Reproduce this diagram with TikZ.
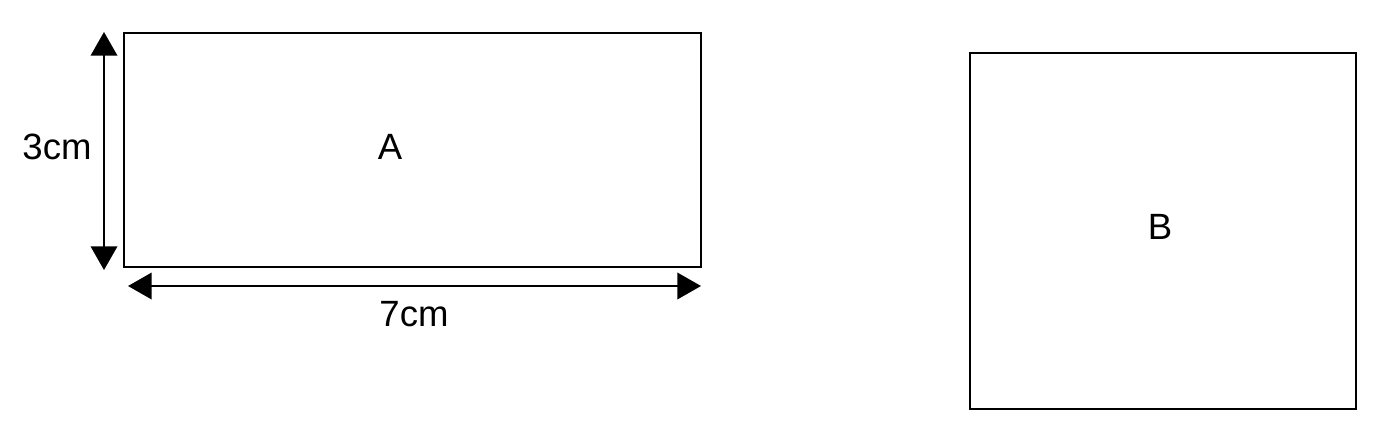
\documentclass[tikz,border=0pt]{standalone}
\usepackage{fontspec}
\setmainfont{Liberation Sans}
\usetikzlibrary{arrows.meta}
\begin{document}
\begin{tikzpicture}[x=0.02cm,y=-0.02cm,
  box/.style={draw,line width=1.4pt},
  dim/.style={line width=1.5pt,{Triangle[length=13.5pt,width=15pt]}-{Triangle[length=13.5pt,width=15pt]}},
  lbl/.style={font=\fontsize{20.8}{24}\selectfont,inner sep=0pt}]
\useasboundingbox (0,0) rectangle (1389,439);
\draw[box] (124,33) rectangle (701,267);
\node[lbl] (A) at (390,147) {A};
\draw[box] (970,53) rectangle (1356,409);
\node[lbl] (B) at (1160,227) {B};
\coordinate (vt) at (104,32);
\coordinate (vb) at (104,270);
\coordinate (hl) at (128,286);
\coordinate (hr) at (701,286);
\draw[dim] (vt) -- (vb);
\draw[dim] (hl) -- (hr);
\node[lbl] (h) at (57,147) {3cm};
\node[lbl] (w) at (414,314) {7cm};
\end{tikzpicture}
\end{document}
